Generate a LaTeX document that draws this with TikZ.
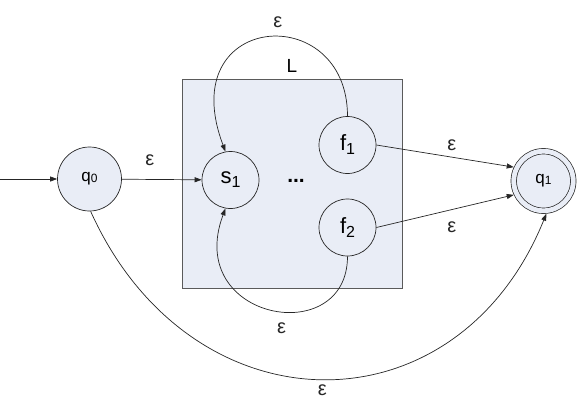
\documentclass[tikz,border=0pt]{standalone}
\usepackage{fontspec}
\setmainfont{Liberation Sans}
\usetikzlibrary{arrows.meta}
\definecolor{stfill}{HTML}{E9EDF6}
\definecolor{boxline}{HTML}{5A5A5A}
\newcommand{\lowsub}[1]{\raisebox{-0.35ex}{\fontsize{16}{16}\selectfont#1}}
\newcommand{\qsub}[1]{\raisebox{-0.1ex}{\fontsize{12}{12}\selectfont#1}}
\tikzset{stt/.style={draw=black!85,circle,fill=stfill,minimum size=57pt,inner sep=0pt,line width=0.7pt,font=\fontsize{22}{22}\selectfont},
  big/.style={stt,minimum size=64pt,font=\fontsize{17}{17}\selectfont},
  acc/.style={big,double=stfill,double distance=4.8pt,minimum size=59.5pt,outer sep=3.1pt},
  arr/.style={-{Triangle[length=7pt,width=5pt]},line width=0.7pt,black!85},
  eps/.style={font=\fontsize{20}{20}\selectfont}}

\begin{document}
\begin{tikzpicture}[x=1pt,y=1pt]
\useasboundingbox (0,0) rectangle (577,-409);
\draw[boxline,fill=stfill,line width=0.8pt] (182,-79) rectangle (402,-288);
\node[font=\fontsize{19}{19}\selectfont] (lang) at (292,-66) {L};
\node[big] (q0) at (89.5,-179) {q\qsub{0}};
\node[stt] (s1) at (230.5,-180) {s\lowsub{1}};
\node[stt] (f1) at (347.5,-145) {f\lowsub{1}};
\node[stt] (f2) at (347.5,-227.5) {f\lowsub{2}};
\node[acc] (q1) at (543.5,-181) {q\qsub{1}};
\node[font=\fontsize{21}{21}\selectfont\bfseries] (dots) at (296,-181) {...};
\coordinate (start) at (0,-179);
\draw[arr] (start) -- (q0);
\draw[arr] (q0) -- node[eps,pos=0.35,above=10pt]{ε} (s1);
\draw[arr] (f1.north) .. controls +(0,117) and +(-53,140) .. node[eps,pos=0.45,above=5pt]{ε} (s1.100);
\draw[arr] (f2.south) .. controls +(0,-93.5) and +(-42,-112) .. node[eps,pos=0.45,below=7pt]{ε} (s1.260);
\draw[arr] (f1.east) -- node[eps,pos=0.55,above=3pt]{ε} (q1.155);
\draw[arr] (f2.east) -- node[eps,pos=0.55,below=8pt]{ε} (q1.205);
\draw[arr] (q0.-88) .. controls +(100,-222) and +(-90,-222) .. node[eps,below=2pt]{ε} (q1.-85);
\end{tikzpicture}
\end{document}
